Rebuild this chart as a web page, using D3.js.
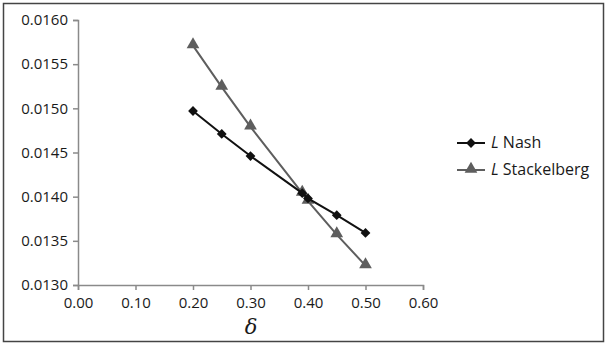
<!DOCTYPE html>
<html>
<head>
<meta charset="utf-8">
<script src="https://d3js.org/d3.v7.min.js"></script>
<style>
  body { margin: 0; background: #fff; }
  svg text { font-family: "Open Sans", sans-serif; }
</style>
</head>
<body>
<div id="chart"></div>
<script>
// データ
const deltas = [0.20, 0.25, 0.30, 0.39, 0.40, 0.45, 0.50];
const nashValues = [0.01497, 0.01471, 0.01446, 0.01404, 0.01398, 0.01379, 0.01359];
const stackelbergValues = [0.01571, 0.01524, 0.01479, 0.01404, 0.01395, 0.01357, 0.01322];
const xTicks = [0, 0.1, 0.2, 0.3, 0.4, 0.5, 0.6];
const yTicks = [0.0130, 0.0135, 0.0140, 0.0145, 0.0150, 0.0155, 0.0160];
const seriesNames = ['Nash', 'Stackelberg'];

const width = 607, height = 345;
const svg = d3.select('#chart').append('svg')
  .attr('width', width)
  .attr('height', height);

// 外枠
svg.append('rect')
  .attr('x', 3.5).attr('y', 3.5)
  .attr('width', 600).attr('height', 338)
  .attr('fill', 'none')
  .attr('stroke', '#444')
  .attr('stroke-width', 1.5);

const x = d3.scaleLinear().domain([0, 0.6]).range([78, 423]);
const y = d3.scaleLinear().domain([0.0130, 0.0160]).range([285, 20]);

// 軸
const yAxis = svg.append('g')
  .attr('transform', 'translate(78,0)')
  .call(d3.axisLeft(y).tickValues(yTicks).tickFormat(d3.format('.4f')).tickSize(5).tickPadding(5));
const xAxis = svg.append('g')
  .attr('transform', 'translate(0,285)')
  .call(d3.axisBottom(x).tickValues(xTicks).tickFormat(d3.format('.2f')).tickSize(5).tickPadding(7));

[xAxis, yAxis].forEach(g => {
  g.select('.domain').attr('stroke', '#8a8a8a').attr('stroke-width', 1.5);
  g.selectAll('.tick line').attr('stroke', '#8a8a8a').attr('stroke-width', 1.5);
  g.selectAll('.tick text').attr('fill', '#1a1a1a').style('font-size', '15px');
});

// 軸ラベル δ
svg.append('text')
  .attr('x', 251).attr('y', 334)
  .attr('text-anchor', 'middle')
  .style('font-family', '"DejaVu Serif", serif')
  .style('font-style', 'italic')
  .style('font-size', '21px')
  .attr('fill', '#1a1a1a')
  .text('δ');

const line = d3.line().x(d => x(d[0])).y(d => y(d[1]));
const nashData = deltas.map((d, i) => [d, nashValues[i]]);
const stackData = deltas.map((d, i) => [d, stackelbergValues[i]]);

const triangle = d3.symbol().type(d3.symbolTriangle).size(70);
const diamond = d3.symbol().type(d3.symbolSquare).size(48);

// Stackelberg
svg.append('path')
  .datum(stackData)
  .attr('d', line)
  .attr('fill', 'none')
  .attr('stroke', '#5e5e5e')
  .attr('stroke-width', 2);
svg.append('g').selectAll('path')
  .data(stackData).enter().append('path')
  .attr('transform', d => `translate(${x(d[0])},${y(d[1]) - 1})`)
  .attr('d', triangle)
  .attr('fill', '#5e5e5e');

// Nash
svg.append('path')
  .datum(nashData)
  .attr('d', line)
  .attr('fill', 'none')
  .attr('stroke', '#111')
  .attr('stroke-width', 2);
svg.append('g').selectAll('path')
  .data(nashData).enter().append('path')
  .attr('d', diamond)
  .attr('transform', d => `translate(${x(d[0])},${y(d[1])}) rotate(45)`)
  .attr('fill', '#111');

// 凡例
const legend = svg.append('g').attr('transform', 'translate(457,143)');
const legendItems = legend.selectAll('g')
  .data(seriesNames).enter().append('g')
  .attr('transform', (d, i) => `translate(0,${i * 27})`);
legendItems.append('line')
  .attr('x1', 0).attr('x2', 28).attr('y1', 0).attr('y2', 0)
  .attr('stroke', (d, i) => i === 0 ? '#111' : '#5e5e5e')
  .attr('stroke-width', 2);
legendItems.append('path')
  .attr('transform', (d, i) => i === 0 ? 'translate(14,0) rotate(45)' : 'translate(14,-1)')
  .attr('d', (d, i) => i === 0 ? diamond() : triangle())
  .attr('fill', (d, i) => i === 0 ? '#111' : '#5e5e5e');
const lt = legendItems.append('text')
  .attr('x', 34).attr('y', 4.5)
  .style('font-size', '16px')
  .attr('fill', '#1a1a1a');
lt.append('tspan').style('font-style', 'italic').text('L');
lt.append('tspan').text(d => ' ' + d);
</script>
</body>
</html>
